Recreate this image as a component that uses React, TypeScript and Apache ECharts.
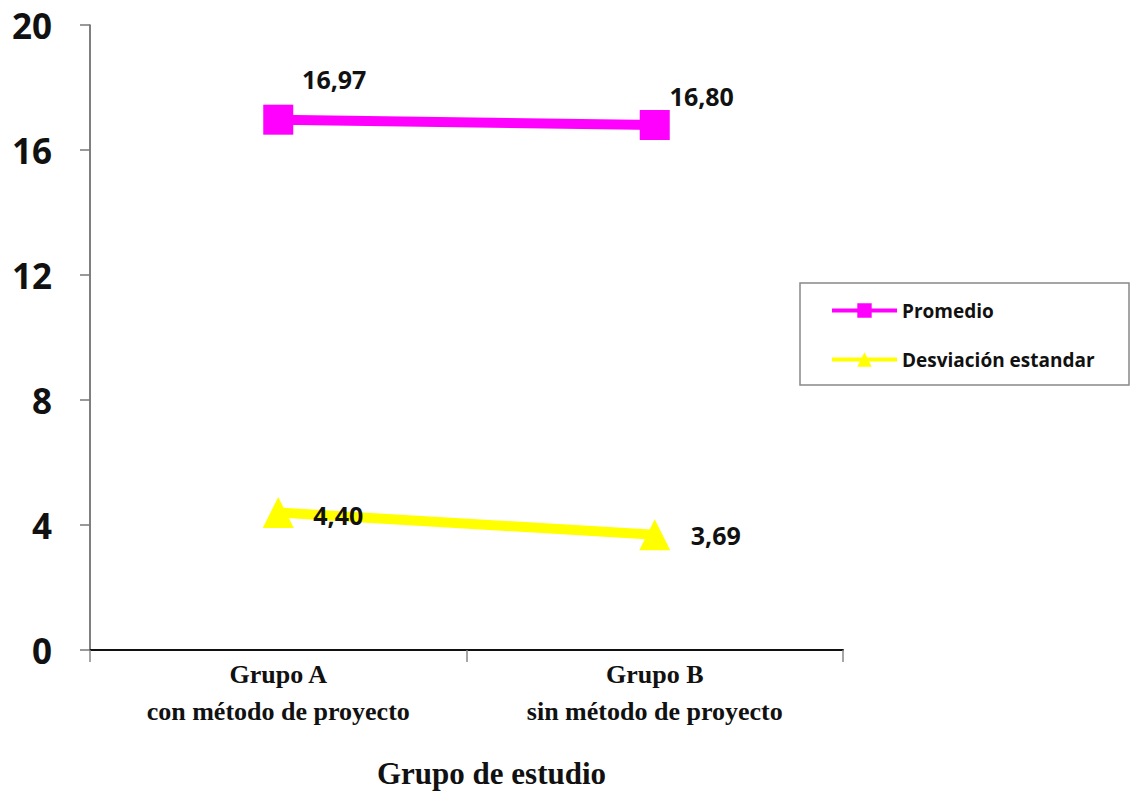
import React, { useEffect, useRef } from "react";
import * as echarts from "echarts";

const categories = ["Grupo A\ncon método de proyecto", "Grupo B\nsin método de proyecto"];
const promedio = [16.97, 16.8];
const desviacion = [4.4, 3.69];
const promedioLabelOffsets = [[56, -41], [47, -29]];
const desviacionLabelOffsets = [[60, 2], [61, 0]];

const fmt = (v: number) => v.toFixed(2).replace(".", ",");

export default function App() {
  const ref = useRef<HTMLDivElement>(null);
  useEffect(() => {
    if (!ref.current) return;
    const chart = echarts.init(ref.current, null, { renderer: "svg" });
    const labelStyle = {
      show: true,
      position: "inside" as const,
      fontFamily: "Open Sans",
      fontWeight: "bold" as const,
      fontSize: 25,
      color: "#111",
    };
    chart.setOption({
      animation: false,
      backgroundColor: "#fff",
      grid: { left: 90, top: 25, right: 287, bottom: 143, containLabel: false, outerBoundsMode: "none" },
      legend: {
        orient: "vertical",
        left: 825,
        top: 296,
        itemWidth: 65,
        itemHeight: 18,
        itemGap: 30,
        lineStyle: { width: 4 },
        textStyle: { fontFamily: "Open Sans", fontWeight: "bold", fontSize: 19, color: "#111" },
        data: ["Promedio", "Desviación estandar"],
      },
      graphic: [
        {
          type: "rect",
          z: -1,
          shape: { x: 800, y: 283, width: 329, height: 102 },
          style: { fill: "none", stroke: "#888", lineWidth: 1.5 },
        },
      ],
      xAxis: {
        type: "category",
        data: categories,
        boundaryGap: true,
        name: "Grupo de estudio",
        nameLocation: "middle",
        nameGap: 108,
        nameTextStyle: {
          fontFamily: "Liberation Serif",
          fontWeight: "bold",
          fontSize: 31,
          lineHeight: 31,
          color: "#111",
          padding: [0, 0, 0, 50],
        },
        axisLine: { lineStyle: { color: "#111", width: 2 } },
        axisTick: { show: true, length: 12, lineStyle: { color: "#888", width: 1.5 } },
        axisLabel: {
          fontFamily: "Liberation Serif",
          fontWeight: "bold",
          fontSize: 26,
          lineHeight: 37,
          color: "#111",
          margin: 6,
        },
        splitLine: { show: false },
      },
      yAxis: {
        type: "value",
        min: 0,
        max: 20,
        interval: 4,
        axisLine: { show: true, lineStyle: { color: "#555", width: 1.5 } },
        axisTick: { show: true, length: 10, lineStyle: { color: "#777", width: 1.5 } },
        axisLabel: { fontFamily: "Open Sans", fontWeight: "bold", fontSize: 35, color: "#111", margin: 38 },
        splitLine: { show: false },
      },
      series: [
        {
          name: "Promedio",
          type: "line",
          data: promedio.map((v, i) => ({
            value: v,
            label: { ...labelStyle, offset: promedioLabelOffsets[i], formatter: () => fmt(v) },
          })),
          symbol: "rect",
          symbolSize: 30,
          itemStyle: { color: "#FF00FF" },
          lineStyle: { color: "#FF00FF", width: 10 },
        },
        {
          name: "Desviación estandar",
          type: "line",
          data: desviacion.map((v, i) => ({
            value: v,
            label: { ...labelStyle, offset: desviacionLabelOffsets[i], formatter: () => fmt(v) },
          })),
          symbol: "triangle",
          symbolSize: 31,
          itemStyle: { color: "#FFFF00" },
          lineStyle: { color: "#FFFF00", width: 10 },
        },
      ],
    });
    return () => chart.dispose();
  }, []);
  return <div ref={ref} style={{ position: "fixed", left: 0, top: 0, width: 1130, height: 793 }} />;
}
